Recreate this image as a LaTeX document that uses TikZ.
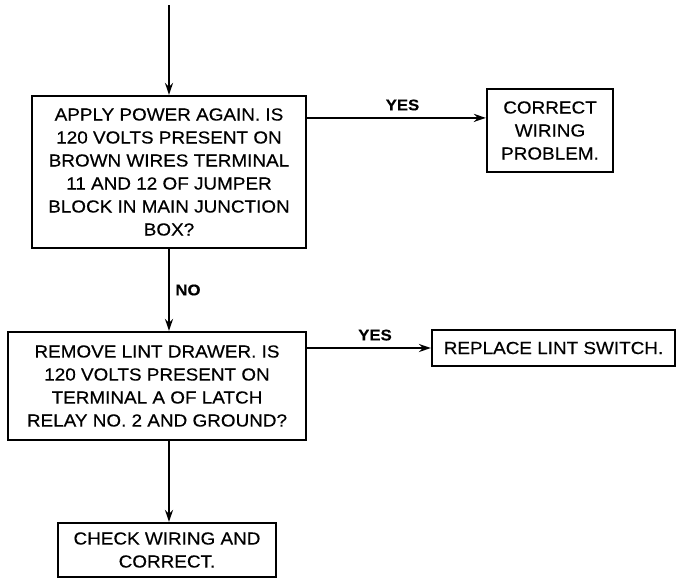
\documentclass[tikz,border=0pt]{standalone}
\usepackage{fontspec}
\setmainfont[FakeStretch=1.08, FakeBold=0.4]{Liberation Sans}
\usetikzlibrary{arrows.meta,positioning}

\tikzset{
    stepbox/.style={draw, line width=2.2pt, align=center, inner sep=0pt,
        font={\fontsize{17.5}{23}\selectfont}},
    answer/.style={font={\fontsize{15.5}{17}\selectfont\bfseries}},
    flow/.style={->, line width=2.2pt}
}

\begin{document}
\begin{tikzpicture}[x=1pt, y=-1pt, >={Stealth[length=12pt,width=8pt]}]
    \useasboundingbox (0,0) rectangle (676,582);

    \coordinate (start) at (169,5);

    \node[stepbox, minimum width=274pt, minimum height=152pt] (power) at (169,172)
        {APPLY POWER AGAIN. IS\\120 VOLTS PRESENT ON\\BROWN WIRES TERMINAL\\11 AND 12 OF JUMPER\\BLOCK IN MAIN JUNCTION\\BOX?};
    \node[stepbox, minimum width=126pt, minimum height=83pt] (wiring) at (550,130.5)
        {CORRECT\\WIRING\\PROBLEM.};
    \node[stepbox, minimum width=298pt, minimum height=108pt] (drawer) at (157,386)
        {REMOVE LINT DRAWER. IS\\120 VOLTS PRESENT ON\\TERMINAL A OF LATCH\\RELAY NO. 2 AND GROUND?};
    \node[stepbox, minimum width=243pt, minimum height=36pt] (switch) at (553.5,348)
        {REPLACE LINT SWITCH.};
    \node[stepbox, minimum width=218pt, minimum height=54pt] (check) at (167,550)
        {CHECK WIRING AND\\CORRECT.};

    % connectors
    \draw[flow] (start) -- (power.north);
    \draw[flow] ([yshift=-23pt]power.north east) -- node[answer, above=3pt, xshift=6pt] {YES} ([yshift=-30pt]wiring.north west);
    \draw[flow] (power.south) -- node[answer, right=2pt] {NO} (power.south |- drawer.north);
    \draw[flow] (drawer.east |- switch.west) -- node[answer, above=3pt, xshift=6pt] {YES} (switch.west);
    \draw[flow] (power.south |- drawer.south) -- (power.south |- check.north);
\end{tikzpicture}
\end{document}
